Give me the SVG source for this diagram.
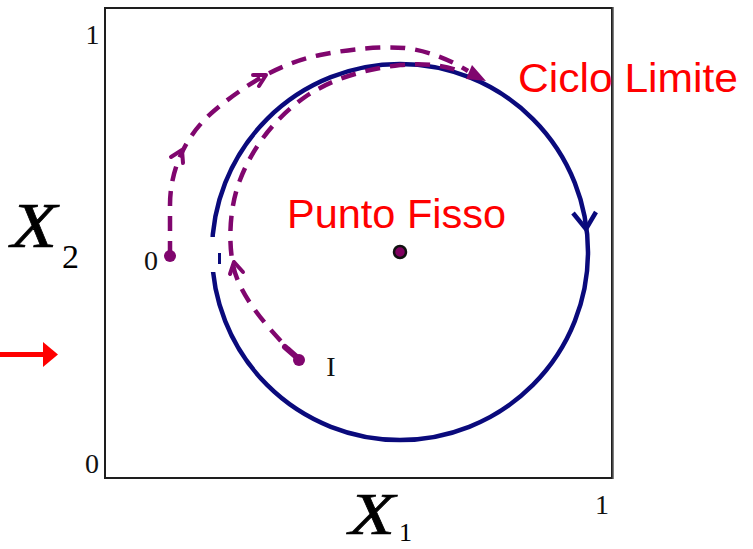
<svg xmlns="http://www.w3.org/2000/svg" width="753" height="549" viewBox="0 0 753 549">
<style>
.frame{fill:none;stroke:#1e1e1e;stroke-width:2}
.traj{fill:none;stroke:#80066e;stroke-width:4.5;stroke-dasharray:15 10;stroke-linecap:butt}
.chev{fill:none;stroke:#80066e;stroke-width:4;stroke-linecap:round;stroke-linejoin:round}
.cycle{fill:none;stroke:#0a0a7c;stroke-width:4.5}
.tick{font-family:"Liberation Serif",serif;font-size:28px;fill:#111}
.axis{font-family:"Liberation Serif",serif;font-style:italic;fill:#000;stroke:#000;stroke-width:0.7}
.sub{font-family:"Liberation Serif",serif;fill:#000}
.red{font-family:"Liberation Sans",Arial,sans-serif;font-size:40px;fill:#ff0000}
</style>
<rect width="753" height="549" fill="#ffffff"/>
<g id="frame">
<rect class="frame" x="105" y="8" width="507" height="470"/>
<line x1="613" y1="7" x2="613" y2="479" stroke="#555" stroke-width="1.5"/>
<text class="tick" x="92.5" y="44" text-anchor="middle">1</text>
<text class="tick" x="92" y="473" text-anchor="middle">0</text>
<text class="tick" x="602" y="514" text-anchor="middle">1</text>
</g>
<g id="axis-x2">
<text class="axis" x="11" y="247" font-size="64" textLength="46" lengthAdjust="spacingAndGlyphs">X</text>
<text class="sub" x="62" y="268" font-size="34">2</text>
</g>
<g id="axis-x1">
<text class="axis" x="349" y="534" font-size="60" textLength="46" lengthAdjust="spacingAndGlyphs">X</text>
<text class="sub" x="399" y="541" font-size="26">1</text>
</g>
<g id="red-arrow">
<rect x="0" y="352" width="45" height="5" fill="#ff0000"/>
<polygon points="43,342 58,354.5 43,367" fill="#ff0000"/>
</g>
<g id="limit-cycle">
<circle class="cycle" cx="400" cy="252" r="188"/>
<polyline class="cycle" points="573,213 586,229 596,212"/>
<rect x="209" y="237" width="10" height="35" fill="#ffffff"/>
<rect x="218" y="253" width="3" height="11" fill="#0a0a7c"/>
</g>
<g id="connectors">
<path class="traj" d="M170,256 L170,205 C170,170 185,135 215,110 C245,85 280,63 320,55 C350,49 380,46 405,48 C430,51 452,61 468,71"/>
<path class="traj" d="M298,359 C275,335 240,300 233,265 C228,240 230,205 240,180 C252,148 275,118 305,97 C330,80 360,70 400,65 C425,63 445,65 462,72"/>
<polyline class="chev" points="171,157 182,150 183,163"/>
<polyline class="chev" points="253,75 266,75 259,86"/>
<polyline class="chev" points="230,274 234,262 243,272"/>
<polygon points="486,81 466,79 472,65" fill="#80066e"/>
</g>
<g id="start-0">
<circle cx="170" cy="256" r="6" fill="#80066e"/>
<text class="tick" x="151" y="270" text-anchor="middle">0</text>
</g>
<g id="start-I">
<path d="M285,347 L300,360" stroke="#80066e" stroke-width="6" stroke-linecap="round"/>
<circle cx="299" cy="360" r="6" fill="#80066e"/>
<text class="tick" x="331" y="376" text-anchor="middle">I</text>
</g>
<g id="fixed-point">
<circle cx="400" cy="252" r="6" fill="#800060" stroke="#111" stroke-width="2.5"/>
<text class="red" x="287" y="228" textLength="219" lengthAdjust="spacingAndGlyphs">Punto Fisso</text>
</g>
<g id="limit-label">
<text class="red" x="518" y="92" textLength="220" lengthAdjust="spacingAndGlyphs">Ciclo Limite</text>
</g>
</svg>
